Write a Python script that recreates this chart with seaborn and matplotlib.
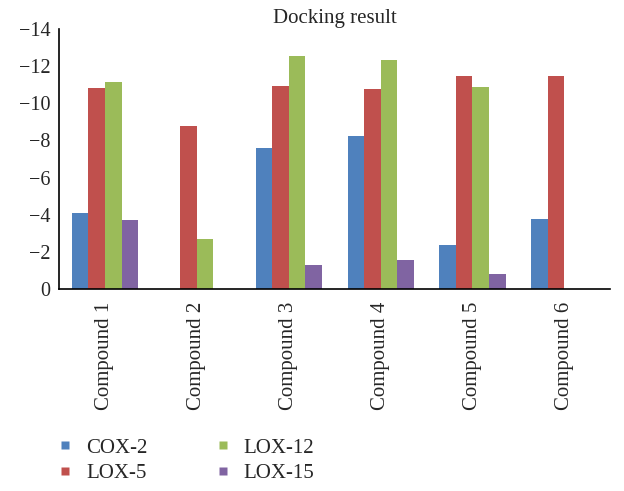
import matplotlib; matplotlib.use('Agg')
import numpy as np
import pandas as pd
import matplotlib.pyplot as plt
from matplotlib.lines import Line2D
import seaborn as sns

# docking scores (kcal/mol, negative), NaN = no bar
compounds = ['Compound 1', 'Compound 2', 'Compound 3', 'Compound 4', 'Compound 5', 'Compound 6']
targets = ['COX-2', 'LOX-5', 'LOX-12', 'LOX-15']
cox2 = [-4.1, np.nan, -7.6, -8.25, -2.35, -3.75]
lox5 = [-10.8, -8.75, -10.95, -10.75, -11.45, -11.45]
lox12 = [-11.15, -2.7, -12.55, -12.35, -10.9, np.nan]
lox15 = [-3.7, np.nan, -1.3, -1.55, -0.8, np.nan]
colors = ['#4F81BD', '#C0504D', '#9BBB59', '#8064A2']

sns.set_style('white')
plt.rcParams['font.family'] = ['Liberation Serif', 'DejaVu Serif']

# long format for seaborn
rows = []
for t, vals in zip(targets, [cox2, lox5, lox12, lox15]):
    for c, v in zip(compounds, vals):
        rows.append({'compound': c, 'target': t, 'score': v})
df = pd.DataFrame(rows)

fig = plt.figure(figsize=(6.24, 4.91), dpi=100)
ax = fig.add_axes([0.0946, 0.4114, 0.8834, 0.5296])

sns.barplot(data=df, x='compound', y='score', hue='target', order=compounds,
            hue_order=targets, palette=colors, width=0.72, saturation=1,
            linewidth=0, legend=False, ax=ax)

ax.set_ylim(0, -14)
ax.set_yticks(np.arange(0, -15, -2))
ax.set_xlim(-0.5, 5.5)
ax.set_xlabel('')
ax.set_ylabel('')
ax.tick_params(axis='y', length=0, pad=6, labelsize=14.5)
ax.tick_params(axis='x', length=0, pad=9, labelsize=15, rotation=90)
for s in ['top', 'right']:
    ax.spines[s].set_visible(False)
for s in ['left', 'bottom']:
    ax.spines[s].set_color('black')
    ax.spines[s].set_linewidth(1.2)
ax.set_title('Docking result', fontsize=15, pad=4)

handles = [Line2D([0], [0], marker='s', color='none', markerfacecolor=c,
                  markeredgecolor='none', markersize=6) for c in colors]
fig.legend(handles, targets, loc='upper left', bbox_to_anchor=(0.058, 0.146),
           ncol=2, frameon=False, fontsize=15, handlelength=1.0,
           handletextpad=0.5, columnspacing=3.1, labelspacing=0.3)

fig.savefig('out.png', dpi=100)
